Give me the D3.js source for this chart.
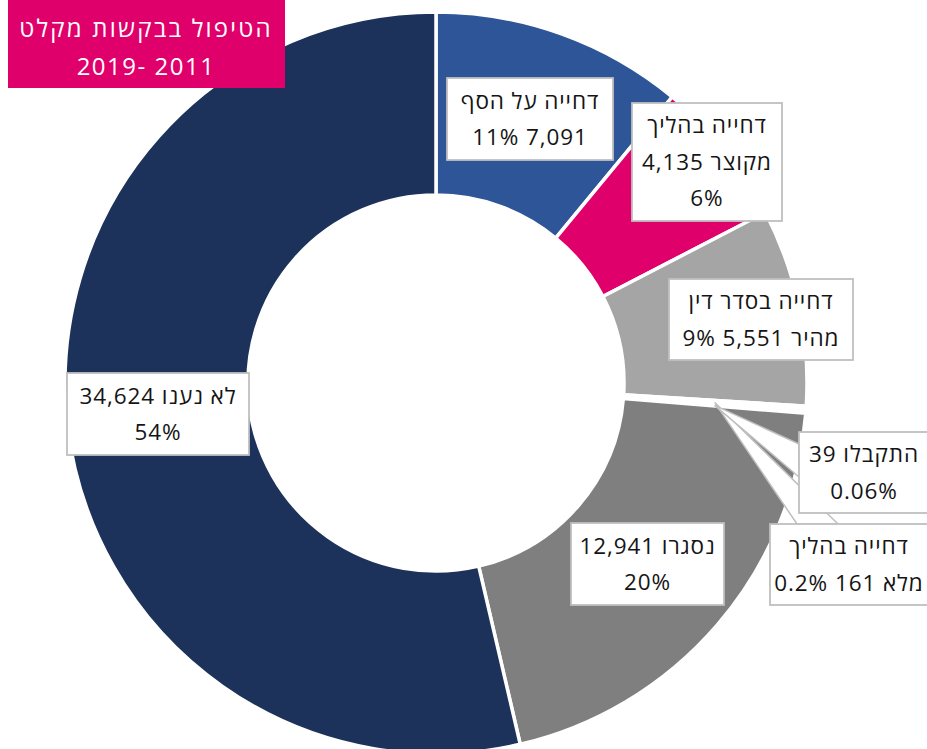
<!DOCTYPE html>
<html><head><meta charset="utf-8">
<script src="https://cdn.jsdelivr.net/npm/d3@7"></script>
<style>
html,body{margin:0;padding:0;background:#fff;}
svg{display:block;}
text{font-family:"Open Sans","DejaVu Sans",sans-serif;}
</style></head>
<body>
<svg id="c" width="927" height="749"></svg>
<script>
// ---- data ----
const categories = ["דחייה על הסף","דחייה בהליך מקוצר","דחייה בסדר דין מהיר","דחייה בהליך מלא","התקבלו","נסגרו","לא נענו"];
const values = [7091, 4135, 5551, 161, 39, 12941, 34624];
const percents = ["11%","6%","9%","0.2%","0.06%","20%","54%"];
const titleLines = ["הטיפול בבקשות מקלט","2019- 2011"];

// ---- styles / layout ----
const colors = ["#2E5597","#E0006B","#A5A5A5","#FFFFFF","#FFC000","#7F7F7F","#1C325A"];
const wordsPerLine = [[3,2],[2,2,1],[3,3],[2,3],[2,1],[2,1],[3,1]];
const boxes = [
  {x:447,y:78,w:166,h:82},
  {x:632,y:103,w:150,h:118},
  {x:669,y:279,w:184,h:81},
  {x:770,y:524,w:164,h:81,tx:849},
  {x:799,y:432,w:133,h:81,tx:864},
  {x:571,y:523,w:153,h:82},
  {x:67,y:373,w:182,h:82}
];
// pointer wedges (box-edge base points) for tiny slices
const wedges = {3:[[797,524],[838,524]], 4:[[799,444],[799,477]]};

const svg = d3.select("#c");
const cx = 436, cy = 383, R = 371, r0 = 188;
const fmt = d3.format(",");

const pie = d3.pie().sort(null).value(d=>d)(values);
const arc = d3.arc().innerRadius(r0).outerRadius(R);
const g = svg.append("g").attr("transform",`translate(${cx},${cy})`);
g.selectAll("path").data(pie).join("path")
  .attr("d",arc).attr("fill",(d,i)=>colors[i])
  .attr("stroke","#fff").attr("stroke-width",3.5).attr("stroke-linejoin","miter");

// labels
function lines(i){
  const toks = categories[i].split(" ").concat([fmt(values[i]), percents[i]]);
  const out=[]; let k=0;
  wordsPerLine[i].forEach(n=>{out.push(toks.slice(k,k+n).join(" ")); k+=n;});
  return out;
}
const order = [0,1,2,5,6,3,4];
order.forEach(i=>{
  const b = boxes[i];
  const lg = svg.append("g");
  if (wedges[i]) {
    const c = arc.centroid(pie[i]);
    const p = [cx+c[0], cy+c[1]];
    lg.append("path")
      .attr("d", d3.line()([p, wedges[i][0], wedges[i][1]]) + "Z")
      .attr("fill","#fff").attr("stroke","#BFBFBF").attr("stroke-width",1.5);
  }
  lg.append("rect").attr("x",b.x).attr("y",b.y).attr("width",b.w).attr("height",b.h)
    .attr("fill","#fff").attr("stroke","#BFBFBF").attr("stroke-width",1.8);
  const L = lines(i);
  const step = 36.5;
  const mx = b.tx || (b.x + b.w/2);
  const my = b.y + b.h/2;
  L.forEach((t,j)=>{
    lg.append("text")
      .attr("x", mx)
      .attr("y", my + (j-(L.length-1)/2)*step)
      .attr("dy","0.35em")
      .attr("text-anchor","middle")
      .style("direction","rtl")
      .style("letter-spacing","0.9px")
      .attr("font-size",22.5)
      .attr("fill","#151515")
      .text(t);
  });
});

// title box
svg.append("rect").attr("x",8).attr("y",0).attr("width",277).attr("height",88).attr("fill","#E0006B");
svg.append("text").attr("x",146).attr("y",29).attr("dy","0.35em").attr("text-anchor","middle")
  .style("direction","rtl").style("letter-spacing","2.2px").attr("font-size",24).attr("fill","#fff").text(titleLines[0]);
svg.append("text").attr("x",146).attr("y",67).attr("dy","0.35em").attr("text-anchor","middle")
  .style("direction","ltr").style("letter-spacing","1.5px").attr("font-size",24).attr("fill","#fff").text(titleLines[1]);
</script>
</body></html>
